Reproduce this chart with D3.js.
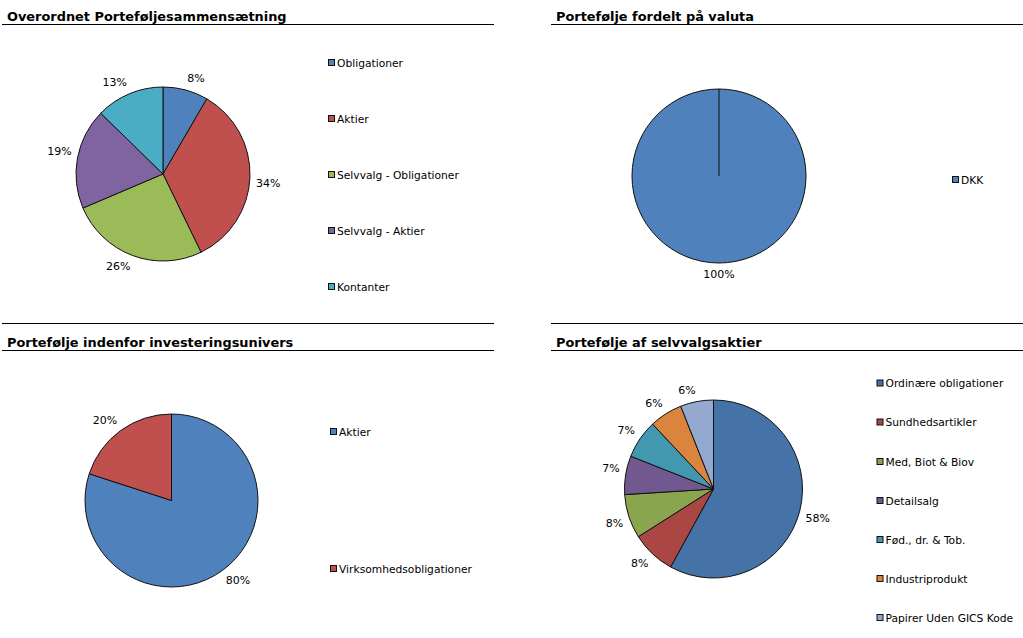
<!DOCTYPE html>
<html>
<head>
<meta charset="utf-8">
<script src="https://cdn.jsdelivr.net/npm/d3@7"></script>
<style>
  html, body { margin: 0; padding: 0; background: #fff; }
  svg { display: block; font-family: "DejaVu Sans", Verdana, sans-serif; }
</style>
</head>
<body>
<svg id="chart" width="1023" height="638"></svg>
<script>
// ---- Data ----
const titles = [
  "Overordnet Porteføljesammensætning",
  "Portefølje fordelt på valuta",
  "Portefølje indenfor investeringsunivers",
  "Portefølje af selvvalgsaktier"
];

const overordnetCategories = ["Obligationer", "Aktier", "Selvvalg - Obligationer", "Selvvalg - Aktier", "Kontanter"];
const overordnetValues = [8.4, 34.4, 25.8, 18.7, 12.7];
const overordnetColors = ["#4F81BD", "#C0504D", "#9BBB59", "#8064A2", "#4BACC6"];

const valutaCategories = ["DKK"];
const valutaValues = [100];
const valutaColors = ["#4F81BD"];

const universCategories = ["Aktier", "Virksomhedsobligationer"];
const universValues = [80, 20];
const universColors = ["#4F81BD", "#C0504D"];

const selvvalgCategories = ["Ordinære obligationer", "Sundhedsartikler", "Med, Biot & Biov", "Detailsalg", "Fød., dr. & Tob.", "Industriprodukt", "Papirer Uden GICS Kode"];
const selvvalgValues = [58, 8, 8, 7, 7, 6, 6];
const selvvalgColors = ["#4572A7", "#AA4643", "#89A54E", "#71588F", "#4198AF", "#DB843D", "#93A9CF"];

// ---- Layout ----
const svg = d3.select("#chart");

const panels = [
  { title: titles[0], cats: overordnetCategories, vals: overordnetValues, cols: overordnetColors,
    x0: 2, x1: 494, titleX: 7, titleY: 21, lineY: 24.5, topLine: null,
    cx: 163, cy: 174, r: 87, legX: 328, legY: [63, 119, 175, 231, 287] },
  { title: titles[1], cats: valutaCategories, vals: valutaValues, cols: valutaColors,
    x0: 551, x1: 1023, titleX: 556, titleY: 21, lineY: 24.5, topLine: null,
    cx: 719, cy: 176, r: 87, legX: 952, legY: [180] },
  { title: titles[2], cats: universCategories, vals: universValues, cols: universColors,
    x0: 2, x1: 494, titleX: 7, titleY: 347, lineY: 350.5, topLine: 323.5,
    cx: 171.5, cy: 500.5, r: 86.5, legX: 330, legY: [432, 569] },
  { title: titles[3], cats: selvvalgCategories, vals: selvvalgValues, cols: selvvalgColors,
    x0: 551, x1: 1023, titleX: 556, titleY: 347, lineY: 350.5, topLine: 323.5,
    cx: 713.5, cy: 489, r: 89, legX: 876.5, legY: [383.5, 422.5, 462, 501, 540, 579, 618] }
];

const fmtPct = d3.format(".0%");

panels.forEach(p => {
  const g = svg.append("g");

  if (p.topLine !== null) {
    g.append("line").attr("x1", p.x0).attr("x2", p.x1)
      .attr("y1", p.topLine).attr("y2", p.topLine)
      .attr("stroke", "#000").attr("stroke-width", 1);
  }
  g.append("line").attr("x1", p.x0).attr("x2", p.x1)
    .attr("y1", p.lineY).attr("y2", p.lineY)
    .attr("stroke", "#000").attr("stroke-width", 1);
  g.append("text").attr("x", p.titleX).attr("y", p.titleY)
    .attr("font-size", "12.9px").attr("font-weight", "bold").attr("fill", "#000")
    .text(p.title);

  const data = p.cats.map((c, i) => ({ cat: c, val: p.vals[i], col: p.cols[i] }));
  const total = d3.sum(data, d => d.val);
  const pie = d3.pie().value(d => d.val).sort(null);
  const arc = d3.arc().innerRadius(0).outerRadius(p.r);
  const arcs = pie(data);

  const pg = g.append("g").attr("transform", `translate(${p.cx},${p.cy})`);
  pg.selectAll("path").data(arcs).join("path")
    .attr("d", arc)
    .attr("fill", d => d.data.col)
    .attr("stroke", "#111").attr("stroke-width", 1).attr("stroke-linejoin", "round");

  if (arcs.length === 1) {
    pg.append("line").attr("x1", 0).attr("y1", 0).attr("x2", 0).attr("y2", -p.r)
      .attr("stroke", "#111").attr("stroke-width", 1);
  }

  // labels: nearest corner of the label box sits just outside the slice's mid-point
  arcs.forEach(a => {
    const mid = (a.startAngle + a.endAngle) / 2;
    const t = pg.append("text")
      .attr("font-size", "11px").attr("fill", "#000")
      .attr("text-anchor", "middle").attr("dominant-baseline", "central")
      .text(fmtPct(a.data.val / total));
    const w = t.node().getComputedTextLength();
    const h = 11;
    const s = Math.sin(mid), c = Math.cos(mid);
    const sgn = v => Math.abs(v) < 1e-6 ? 0 : Math.sign(v);
    const dist = p.r + 6;
    const x = s * dist + sgn(s) * w / 2;
    const y = -c * dist - sgn(c) * h / 2;
    t.attr("x", x).attr("y", y);
  });

  // legend
  const lg = g.append("g");
  data.forEach((d, i) => {
    const y = p.legY[i];
    lg.append("rect").attr("x", p.legX + 0.5).attr("y", y - 3.5).attr("width", 6).attr("height", 6)
      .attr("fill", d.col).attr("stroke", "#111").attr("stroke-width", 1);
    lg.append("text").attr("x", p.legX + 9).attr("y", y)
      .attr("dominant-baseline", "central")
      .attr("font-size", "10.7px").attr("fill", "#000")
      .text(d.cat);
  });
});
</script>
</body>
</html>
